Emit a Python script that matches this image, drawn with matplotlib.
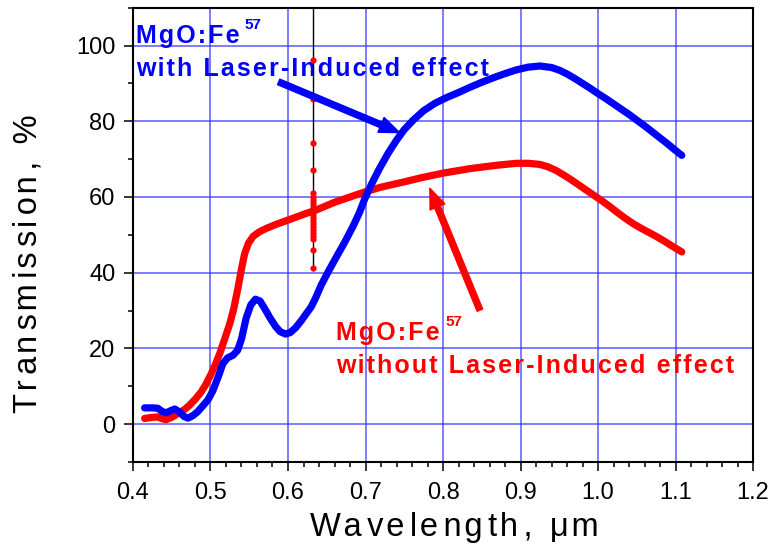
import matplotlib
matplotlib.use("Agg")
import matplotlib.pyplot as plt
from matplotlib.ticker import MultipleLocator

plt.rcParams['font.family'] = ['Liberation Sans', 'DejaVu Sans']

# ---- data
wl_laser = [0.415, 0.425, 0.432, 0.438, 0.443, 0.449, 0.454, 0.460, 0.466,
            0.471, 0.477, 0.483, 0.490, 0.497, 0.503, 0.510, 0.516, 0.522,
            0.529, 0.535, 0.540, 0.546, 0.552, 0.558, 0.564, 0.570, 0.577,
            0.584, 0.590, 0.597, 0.603, 0.610, 0.617, 0.624, 0.630, 0.636,
            0.643, 0.652, 0.662, 0.673, 0.684, 0.692, 0.699, 0.708, 0.718,
            0.729, 0.740, 0.750, 0.761, 0.775, 0.790, 0.805, 0.820, 0.835,
            0.850, 0.865, 0.880, 0.895, 0.910, 0.925, 0.940, 0.950, 0.960,
            0.970, 0.980, 0.990, 1.000, 1.010, 1.020, 1.030, 1.040, 1.050,
            1.060, 1.070, 1.080, 1.090, 1.100, 1.108]
tr_laser = [4.3, 4.3, 4.2, 3.3, 3.0, 3.6, 4.0, 3.2, 2.0,
            1.6, 2.2, 3.2, 4.8, 6.5, 8.8, 12.5, 16.0, 17.5,
            18.2, 19.5, 22.5, 28.0, 31.5, 33.0, 32.5, 30.5, 28.0,
            25.8, 24.4, 23.8, 24.2, 25.5, 27.3, 29.3, 31.0, 33.5,
            36.8, 40.3, 44.0, 48.0, 52.3, 55.8, 59.5, 63.5, 67.5,
            71.5, 75.0, 77.8, 80.2, 82.8, 84.8, 86.3, 87.6, 89.0,
            90.3, 91.5, 92.6, 93.6, 94.3, 94.6, 94.2, 93.5, 92.5,
            91.3, 90.0, 88.7, 87.3, 86.0, 84.6, 83.2, 81.8, 80.3,
            78.8, 77.2, 75.6, 74.0, 72.3, 71.0]

wl_plain = [0.415, 0.425, 0.432, 0.438, 0.443, 0.450, 0.458, 0.466, 0.473,
            0.480, 0.488, 0.494, 0.500, 0.506, 0.512, 0.518, 0.525, 0.530,
            0.5355, 0.540, 0.544, 0.549, 0.555, 0.563, 0.572, 0.585, 0.600,
            0.612, 0.624, 0.633, 0.645, 0.660, 0.680, 0.700, 0.720, 0.750,
            0.770, 0.800, 0.835, 0.870, 0.895, 0.910, 0.925, 0.935, 0.945,
            0.955, 0.965, 0.975, 0.985, 0.995, 1.005, 1.015, 1.025, 1.035,
            1.045, 1.055, 1.065, 1.075, 1.085, 1.095, 1.108]
tr_plain = [1.5, 1.8, 1.9, 1.4, 1.2, 1.8, 2.8, 3.8, 5.0,
            6.5, 8.5, 10.5, 12.9, 15.6, 18.7, 22.3, 26.6, 30.5,
            36.0, 41.0, 45.0, 47.8, 49.6, 50.8, 51.7, 52.8, 53.9,
            54.8, 55.7, 56.3, 57.3, 58.6, 60.0, 61.4, 62.6, 64.0,
            65.0, 66.3, 67.5, 68.4, 68.9, 68.9, 68.6, 68.0, 67.1,
            65.9, 64.6, 63.2, 61.8, 60.4, 59.0, 57.5, 55.9, 54.4,
            53.0, 51.8, 50.7, 49.6, 48.4, 47.1, 45.5]

# spike of the red curve at the He-Ne laser line
laser_line = 0.6328
spike_tr = [96.2, 86.0, 74.3, 67.2, 61.1, 60.0, 59.2, 58.4, 57.6, 56.8,
            56.0, 55.2, 54.4, 53.6, 52.8, 52.0, 51.2, 50.4, 49.6, 49.0,
            46.1, 41.2]
spike_span = [40.7, 115.0]

HAIR = '\u200a'


def spread(s, n=1):
    """crude letter spacing: hair spaces between characters"""
    return (HAIR * n).join(s)


def spread15(s):
    # alternate one and two hair spaces, ~1.5 on average
    out = s[0]
    for i, ch in enumerate(s[1:]):
        out += HAIR * (2 if i % 2 else 1) + ch
    return out


fig, ax = plt.subplots(figsize=(7.7, 5.5), dpi=100)
fig.subplots_adjust(left=0.1727, right=0.978, bottom=0.16, top=0.986)

ax.grid(True, color='#3030ff', lw=1.1, alpha=0.8)
ax.set_axisbelow(True)

line_kw = dict(lw=5.2, solid_capstyle='round', solid_joinstyle='round')
ax.plot(wl_plain, tr_plain, color='red', zorder=3, **line_kw)
ax.plot([laser_line, laser_line], spike_span, color='black', lw=1.0,
        zorder=3.5)
ax.plot([laser_line] * len(spike_tr), spike_tr, 'o', color='red', ms=4.5,
        mec='none', zorder=4)
ax.plot(wl_laser, tr_laser, color='blue', zorder=3.2, **line_kw)

ax.set_xlim(0.4, 1.2)
ax.set_ylim(-10, 110)
ax.xaxis.set_minor_locator(MultipleLocator(0.02))
ax.yaxis.set_minor_locator(MultipleLocator(10))
ax.set_xticks([0.4, 0.5, 0.6, 0.7, 0.8, 0.9, 1.0, 1.1, 1.2])
ax.set_xticklabels(['0.4', '0.5', '0.6', '0.7', '0.8', '0.9', '1.0', '1.1',
                    '1.2'])
ax.set_yticks([0, 20, 40, 60, 80, 100])
ax.tick_params(which='major', length=6.5, width=1.1, labelsize=17, pad=8)
ax.tick_params(which='minor', length=3.6, width=1.1)
ax.tick_params(axis='y', which='major', pad=6)
for sp in ax.spines.values():
    sp.set_linewidth(1.5)

ax.text(-0.1685, 0.436, spread15('Transmission, %'), rotation=90,
        transform=ax.transAxes, ha='center', va='center', fontsize=23.5)
ax.text(0.518, -0.163, spread15('Wavelength, \u03bcm'),
        transform=ax.transAxes, ha='center', va='baseline', fontsize=23.5)

# annotations
ax.text(0.4034, 100.7, spread('MgO:Fe'), color='blue', fontsize=18,
        fontweight='bold', va='baseline')
ax.text(0.5445, 104.4, '57', color='blue', fontsize=11, fontweight='bold',
        va='baseline')
ax.text(0.4034, 91.9, spread('with Laser-Induced effect'), color='blue',
        fontsize=18, fontweight='bold', va='baseline')

ax.text(0.6616, 22.2, spread('MgO:Fe'), color='red', fontsize=18,
        fontweight='bold', va='baseline')
ax.text(0.8027, 25.9, '57', color='red', fontsize=11, fontweight='bold',
        va='baseline')
ax.text(0.6616, 13.6, spread('without Laser-Induced effect'), color='red',
        fontsize=18, fontweight='bold', va='baseline')

arrow_style = 'simple,head_length=1.45,head_width=1.15,tail_width=0.43'
ax.annotate('', xy=(0.744, 77.0), xytext=(0.588, 90.4),
            arrowprops=dict(arrowstyle=arrow_style, mutation_scale=10,
                            color='blue', shrinkA=0, shrinkB=0), zorder=5)
ax.annotate('', xy=(0.783, 62.3), xytext=(0.8476, 30.1),
            arrowprops=dict(arrowstyle=arrow_style, mutation_scale=10,
                            color='red', shrinkA=0, shrinkB=0), zorder=5)

fig.savefig('out.png', dpi=100)
